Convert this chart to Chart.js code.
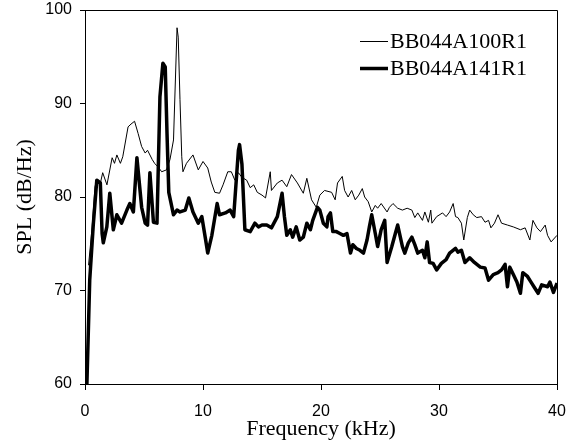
<!DOCTYPE html>
<html>
<head>
<meta charset="utf-8">
<script src="https://cdn.jsdelivr.net/npm/chart.js@4"></script>
<style>
  html, body { margin: 0; padding: 0; background: #fff; }
  #wrap { width: 581px; height: 447px; }
</style>
</head>
<body>
<div id="wrap"><canvas id="chartCanvas" width="581" height="447"></canvas></div>
<script>
// 細線：BB044A100R1
const thinLabel = 'BB044A100R1';
const thinFreq = [0.3, 0.6, 0.85, 1.0, 1.27, 1.5, 1.86, 2.3, 2.5, 2.7, 3.0, 3.2, 3.65, 3.9, 4.2, 4.5, 4.8, 5.1, 5.3, 5.7,
    5.9, 6.2, 6.5, 6.9, 7.2, 7.5, 7.8, 7.9, 8.05, 8.2, 8.3, 8.6, 9.15, 9.6, 10.0, 10.4, 10.7, 11.0, 11.4, 11.7,
    12.1, 12.4, 12.7, 13.0, 13.3, 13.7, 14.0, 14.3, 14.6, 15.0, 15.3, 15.7, 15.8, 16.3, 16.7, 17.1, 17.5, 18.0, 18.5, 18.8,
    19.2, 19.6, 19.9, 20.3, 20.9, 21.2, 21.4, 21.8, 22.0, 22.3, 22.6, 22.9, 23.2, 23.5, 23.7, 24.0, 24.3, 24.6, 24.8, 25.1,
    25.6, 25.8, 26.1, 26.5, 26.9, 27.3, 27.7, 27.95, 28.2, 28.6, 28.8, 29.1, 29.3, 29.4, 29.8, 30.3, 30.6, 30.9, 31.2, 31.4,
    31.6, 31.9, 32.1, 32.4, 32.6, 32.9, 33.2, 33.6, 33.9, 34.2, 34.4, 34.7, 35.0, 35.3, 35.8, 36.3, 36.9, 37.3, 37.7, 37.96,
    38.3, 38.6, 39.0, 39.2, 39.5, 40.0];
const thinSpl = [72.7, 76.7, 81.1, 81.8, 81.3, 82.6, 81.3, 84.2, 83.6, 84.5, 83.6, 84.3, 87.5, 87.8, 88.1, 86.8, 85.4, 84.7, 85.0, 84.0,
    83.6, 83.2, 82.7, 82.9, 84.0, 86.1, 98.1, 97.1, 90.4, 84.3, 82.7, 83.6, 84.5, 82.9, 83.8, 83.1, 81.6, 80.5, 80.4, 81.3,
    82.7, 82.7, 81.8, 82.6, 82.1, 81.8, 81.0, 81.3, 80.5, 80.2, 79.9, 82.7, 80.7, 81.5, 81.8, 81.1, 82.4, 81.5, 80.4, 82.0,
    79.7, 78.9, 80.2, 80.7, 80.5, 79.7, 81.5, 82.2, 80.7, 80.0, 80.7, 79.7, 80.2, 80.9, 80.0, 79.5, 78.4, 79.1, 78.8, 79.3,
    78.4, 78.9, 79.3, 78.8, 78.6, 78.8, 78.6, 77.8, 78.3, 77.5, 78.4, 77.3, 78.6, 77.2, 77.9, 78.3, 77.9, 78.4, 79.3, 77.9,
    77.8, 77.2, 75.4, 77.8, 78.6, 78.1, 77.8, 77.9, 77.3, 77.5, 76.7, 77.2, 78.1, 77.2, 77.0, 76.8, 76.5, 76.7, 75.4, 77.5,
    76.7, 76.3, 77.0, 75.9, 75.2, 75.9];

// 粗線：BB044A141R1
const thickLabel = 'BB044A141R1';
const thickFreq = [0.15, 0.4, 0.7, 1.0, 1.3, 1.45, 1.55, 1.85, 2.1, 2.4, 2.7, 3.1, 3.55, 3.8, 4.1, 4.4, 4.8, 5.1, 5.3, 5.5,
    5.8, 6.1, 6.35, 6.6, 6.8, 6.95, 7.1, 7.5, 7.8, 8.05, 8.5, 8.8, 9.15, 9.6, 9.9, 10.2, 10.4, 10.75, 11.2, 11.4,
    11.9, 12.3, 12.6, 13.0, 13.1, 13.3, 13.55, 14.0, 14.4, 14.7, 15.0, 15.4, 15.8, 16.3, 16.7, 16.9, 17.1, 17.4, 17.6, 17.9,
    18.2, 18.5, 18.8, 19.1, 19.3, 19.7, 19.9, 20.2, 20.5, 20.6, 20.8, 21.0, 21.3, 21.6, 21.9, 22.2, 22.5, 22.7, 23.0, 23.3,
    23.6, 23.9, 24.1, 24.3, 24.6, 24.8, 25.1, 25.4, 25.6, 26.0, 26.3, 26.5, 26.9, 27.1, 27.4, 27.7, 27.95, 28.2, 28.6, 28.8,
    29.0, 29.2, 29.5, 29.8, 30.2, 30.6, 30.9, 31.4, 31.6, 31.9, 32.2, 32.6, 33.0, 33.5, 33.9, 34.2, 34.6, 35.0, 35.3, 35.6,
    35.8, 36.0, 36.3, 36.6, 36.9, 37.1, 37.5, 37.8, 38.1, 38.4, 38.7, 39.2, 39.4, 39.7, 40.0];
const thickSpl = [59.5, 71.1, 77.0, 81.8, 81.5, 76.1, 75.1, 76.8, 80.4, 76.5, 78.1, 77.2, 78.6, 79.3, 78.4, 84.2, 78.9, 77.2, 77.0, 82.6,
    77.3, 77.2, 90.7, 94.3, 93.9, 86.8, 80.5, 78.1, 78.6, 78.4, 78.6, 79.9, 78.4, 77.2, 77.9, 75.6, 74.0, 75.9, 79.3, 78.1,
    78.3, 78.6, 77.9, 85.0, 85.6, 83.5, 76.5, 76.3, 77.2, 76.8, 77.0, 77.0, 76.7, 77.9, 80.4, 77.9, 75.9, 76.5, 75.7, 76.8,
    75.4, 75.7, 77.2, 76.5, 77.5, 78.9, 78.6, 77.2, 76.8, 77.9, 78.3, 76.3, 76.3, 76.1, 75.9, 76.1, 74.0, 74.9, 74.5, 74.3,
    74.0, 75.4, 76.8, 78.1, 76.1, 74.7, 76.5, 77.5, 73.0, 74.7, 76.1, 77.0, 74.7, 74.0, 75.1, 75.7, 74.9, 74.0, 74.3, 73.5,
    75.2, 73.0, 72.9, 72.2, 72.9, 73.3, 74.0, 74.5, 74.1, 74.3, 73.0, 73.5, 73.0, 72.5, 72.4, 71.1, 71.7, 71.9, 72.2, 72.8,
    70.4, 72.5, 71.7, 70.9, 69.7, 71.9, 71.5, 70.9, 70.3, 69.7, 70.6, 70.4, 70.9, 69.8, 70.8];

// 座標軸刻度
const xTicks = [0, 10, 20, 30, 40];
const yTicks = [60, 70, 80, 90, 100];

const serif = '"Liberation Serif", "Times New Roman", serif';
const sans = '"Liberation Sans", Arial, sans-serif';

const toPoints = (xs, ys) => xs.map((x, i) => ({ x: x, y: ys[i] }));

// 圖框（上、右邊線）
const framePlugin = {
    id: 'frame',
    afterDatasetsDraw(chart) {
        const { ctx, chartArea: a } = chart;
        ctx.save();
        ctx.strokeStyle = '#000';
        ctx.lineWidth = 1;
        ctx.beginPath();
        ctx.moveTo(a.left, a.top + 0.5);
        ctx.lineTo(a.right + 0.5, a.top + 0.5);
        ctx.lineTo(a.right + 0.5, a.bottom);
        ctx.stroke();
        ctx.restore();
    }
};

// 圖內圖例
const legendPlugin = {
    id: 'innerLegend',
    afterDraw(chart) {
        const { ctx } = chart;
        const rows = [
            { ds: chart.data.datasets[0], y: 41 },
            { ds: chart.data.datasets[1], y: 68 }
        ];
        ctx.save();
        ctx.font = '22px ' + serif;
        ctx.textBaseline = 'middle';
        ctx.fillStyle = '#000';
        rows.forEach(r => {
            ctx.strokeStyle = '#000';
            ctx.lineWidth = r.ds.borderWidth;
            ctx.beginPath();
            ctx.moveTo(360, r.y + 0.5);
            ctx.lineTo(388, r.y + 0.5);
            ctx.stroke();
            ctx.fillText(r.ds.label, 390, r.y + 1);
        });
        ctx.restore();
    }
};

const canvas = document.getElementById('chartCanvas');
new Chart(canvas, {
    type: 'line',
    data: {
        datasets: [
            {
                label: thinLabel,
                data: toPoints(thinFreq, thinSpl),
                borderColor: '#000',
                borderWidth: 1,
                pointRadius: 0,
                tension: 0,
                order: 1
            },
            {
                label: thickLabel,
                data: toPoints(thickFreq, thickSpl),
                borderColor: '#000',
                borderWidth: 3.5,
                pointRadius: 0,
                tension: 0,
                borderJoinStyle: 'round',
                order: 0
            }
        ]
    },
    options: {
        responsive: false,
        animation: false,
        devicePixelRatio: 1,
        layout: { padding: { left: 0, right: 24, top: 10, bottom: 0 } },
        plugins: {
            legend: { display: false },
            tooltip: { enabled: false }
        },
        scales: {
            x: {
                type: 'linear',
                min: 0,
                max: 40,
                afterBuildTicks: s => { s.ticks = xTicks.map(v => ({ value: v })); },
                afterFit: s => { s.height = 63; s.paddingLeft = 0; s.paddingRight = 0; },
                grid: { drawOnChartArea: false, drawTicks: true, tickLength: 6, color: '#000' },
                border: { display: true, color: '#000', width: 1 },
                ticks: { color: '#000', padding: 12, maxRotation: 0, font: { family: sans, size: 16 } },
                title: {
                    display: true,
                    text: 'Frequency (kHz)',
                    color: '#000',
                    padding: { top: 0, bottom: 5 },
                    font: { family: serif, size: 22 }
                }
            },
            y: {
                type: 'linear',
                min: 60,
                max: 100,
                afterBuildTicks: s => { s.ticks = yTicks.map(v => ({ value: v })); },
                afterFit: s => { s.width = 85; s.paddingTop = 0; s.paddingBottom = 0; },
                grid: { drawOnChartArea: false, drawTicks: true, tickLength: 5, color: '#000' },
                border: { display: true, color: '#000', width: 1 },
                ticks: { color: '#000', padding: 8, font: { family: sans, size: 16 } },
                title: {
                    display: true,
                    text: 'SPL (dB/Hz)',
                    color: '#000',
                    padding: { top: 12, bottom: 0 },
                    font: { family: serif, size: 22 }
                }
            }
        }
    },
    plugins: [framePlugin, legendPlugin]
});
</script>
</body>
</html>
